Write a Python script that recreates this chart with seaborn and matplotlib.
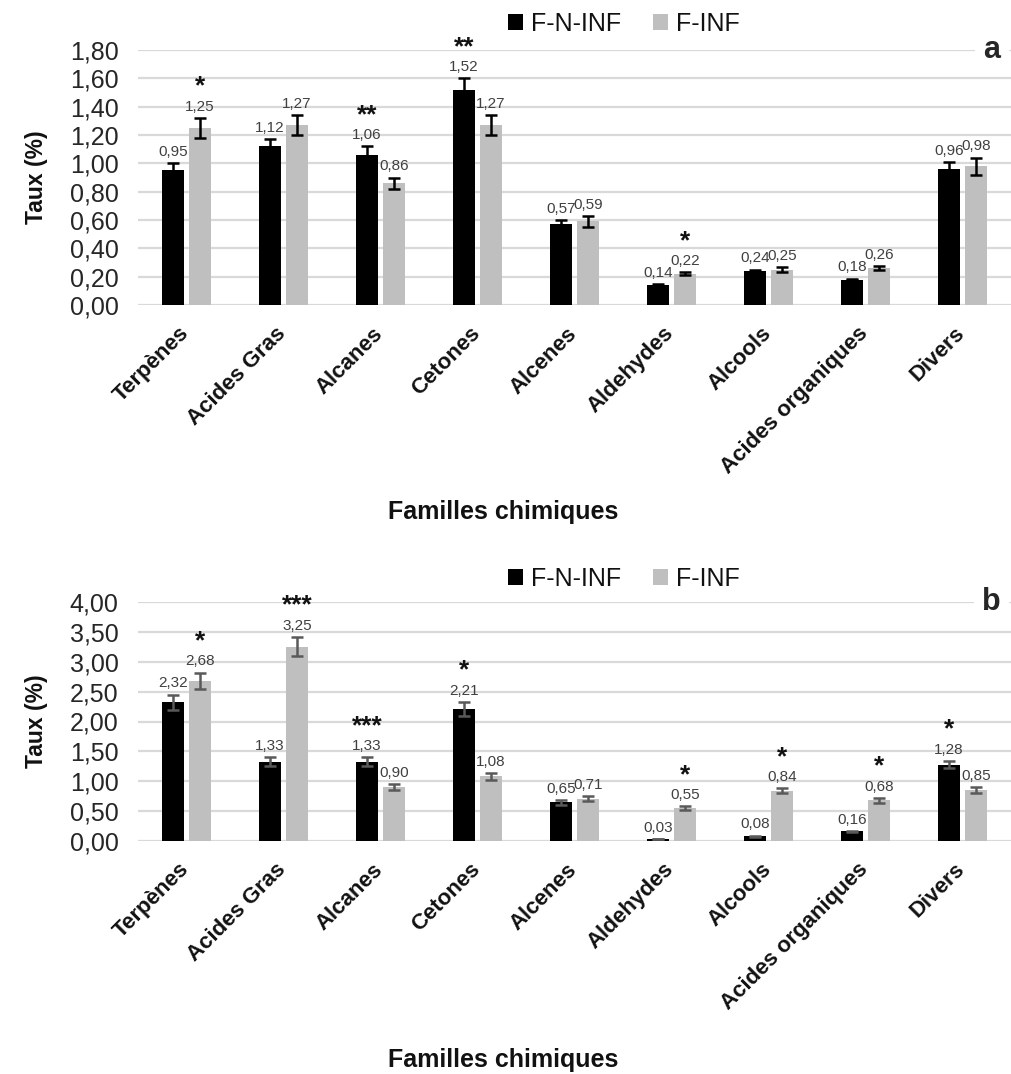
import numpy as np
import pandas as pd
import matplotlib
matplotlib.use("Agg")
import matplotlib.pyplot as plt
import matplotlib.transforms as mtransforms
import seaborn as sns
from matplotlib.patches import Patch
from matplotlib.ticker import FuncFormatter, MultipleLocator

# ---------------- data ----------------
categories = ["Terpènes", "Acides Gras", "Alcanes", "Cetones", "Alcenes",
              "Aldehydes", "Alcools", "Acides organiques", "Divers"]
series = ["F-N-INF", "F-INF"]

a_fninf = [0.95, 1.12, 1.06, 1.52, 0.57, 0.14, 0.24, 0.18, 0.96]
a_finf = [1.25, 1.27, 0.86, 1.27, 0.59, 0.22, 0.25, 0.26, 0.98]
a_err_fninf = [0.05, 0.05, 0.06, 0.08, 0.03, 0.005, 0.01, 0.006, 0.05]
a_err_finf = [0.07, 0.07, 0.04, 0.07, 0.04, 0.01, 0.02, 0.015, 0.06]
a_stars = {("Terpènes", "F-INF"): "*", ("Alcanes", "F-N-INF"): "**",
           ("Cetones", "F-N-INF"): "**", ("Aldehydes", "F-INF"): "*"}

b_fninf = [2.32, 1.33, 1.33, 2.21, 0.65, 0.03, 0.08, 0.16, 1.28]
b_finf = [2.68, 3.25, 0.90, 1.08, 0.71, 0.55, 0.84, 0.68, 0.85]
b_err_fninf = [0.13, 0.08, 0.07, 0.12, 0.04, 0.003, 0.01, 0.01, 0.06]
b_err_finf = [0.14, 0.16, 0.05, 0.06, 0.04, 0.03, 0.04, 0.04, 0.05]
b_stars = {("Terpènes", "F-INF"): "*", ("Acides Gras", "F-INF"): "***",
           ("Alcanes", "F-N-INF"): "***", ("Cetones", "F-N-INF"): "*",
           ("Aldehydes", "F-INF"): "*", ("Alcools", "F-INF"): "*",
           ("Acides organiques", "F-INF"): "*", ("Divers", "F-N-INF"): "*"}

colors = {"F-N-INF": "#000000", "F-INF": "#bfbfbf"}

sns.set_theme(style="white")
plt.rcParams["font.family"] = ["Liberation Sans", "DejaVu Sans"]

fig = plt.figure(figsize=(10.11, 10.74), dpi=100)
W, H = 1011, 1074


def fmt(v):
    return f"{v:.2f}".replace(".", ",")


def panel(rect, v1, v2, e1, e2, stars, ymax, step, errcolor, letter,
          legend_y, xlabel_y):
    ax = fig.add_axes(rect)
    df = pd.DataFrame({
        "cat": categories * 2,
        "serie": [series[0]] * len(categories) + [series[1]] * len(categories),
        "val": list(v1) + list(v2),
    })
    sns.barplot(data=df, x="cat", y="val", hue="serie", hue_order=series,
                palette=colors, width=0.56, gap=0.2, errorbar=None,
                legend=False, ax=ax, saturation=1, linewidth=0)
    ax.set_ylim(0, ymax)
    ax.set_xlim(-0.5, len(categories) - 0.5)
    ax.yaxis.set_major_locator(MultipleLocator(step))
    ax.yaxis.set_major_formatter(FuncFormatter(lambda v, p: fmt(v)))
    ax.grid(axis="y", color="#d9d9d9", linewidth=1.6)
    ax.set_axisbelow(True)
    for s in ax.spines.values():
        s.set_visible(False)
    ax.tick_params(axis="y", length=0, pad=14, labelsize=18, labelcolor="#262626")
    ax.tick_params(axis="x", length=0, pad=13)
    ax.set_xticks(range(len(categories)))
    ax.set_xticklabels(categories, rotation=45, ha="right",
                       rotation_mode="anchor", fontsize=16, fontweight="bold",
                       color="#111111")
    shift = mtransforms.ScaledTranslation(-8 / 100, 0, fig.dpi_scale_trans)
    for lbl in ax.get_xticklabels():
        lbl.set_transform(lbl.get_transform() + shift)
    ax.set_ylabel("Taux (%)", fontsize=16.5, fontweight="bold", color="#111111")
    ax.yaxis.set_label_coords(-0.103, 0.5)
    ax.set_xlabel("Familles chimiques", fontsize=18, fontweight="bold",
                  color="#111111")
    ax.xaxis.set_label_coords(0.418, xlabel_y)

    errs = [e1, e2]
    vals = [v1, v2]
    bar_conts = list(ax.containers)[:2]
    for si, cont in enumerate(bar_conts):
        for ci, bar in enumerate(cont.patches):
            x = bar.get_x() + bar.get_width() / 2
            v = vals[si][ci]
            e = errs[si][ci]
            ax.errorbar(x, v, yerr=e, fmt="none", ecolor=errcolor,
                        elinewidth=1.8, capsize=4.5, capthick=1.8, zorder=5)
            ax.annotate(fmt(v), (x, v + e), xytext=(0, 3),
                        textcoords="offset points", ha="center", va="bottom",
                        fontsize=11, color="#404040", annotation_clip=False)
            key = (categories[ci], series[si])
            if key in stars:
                ax.annotate(stars[key], (x, v + e), xytext=(0, 14),
                            textcoords="offset points", ha="center",
                            va="bottom", fontsize=19, fontweight="bold",
                            color="#111111", annotation_clip=False)

    ax.text(0.978, 1.0, letter, transform=ax.transAxes, ha="center",
            va="center", fontsize=22, fontweight="bold",
            bbox=dict(facecolor="white", edgecolor="none", pad=6), zorder=10)

    handles = [Patch(facecolor=colors[s], edgecolor="none", label=s)
               for s in series]
    fig.legend(handles=handles, loc="center", bbox_to_anchor=(0.617, legend_y),
               ncol=2, frameon=False, fontsize=18, handlelength=0.6,
               handleheight=0.6, handletextpad=0.3, columnspacing=1.3,
               labelcolor="#111111")
    return ax


# panel a: axes from x=138 to 1011, y 50 (top) to 305 (bottom)
panel([138 / W, 1 - 305 / H, 873 / W, (305 - 50) / H],
      a_fninf, a_finf, a_err_fninf, a_err_finf, a_stars, 1.80, 0.20,
      "#000000", "a", 1 - 24 / H, -0.765)

# panel b: y 602 (top) to 841 (bottom)
panel([138 / W, 1 - 841 / H, 873 / W, (841 - 602) / H],
      b_fninf, b_finf, b_err_fninf, b_err_finf, b_stars, 4.00, 0.50,
      "#595959", "b", 1 - 579 / H, -0.865)

fig.savefig("out.png", dpi=100, facecolor="white")
